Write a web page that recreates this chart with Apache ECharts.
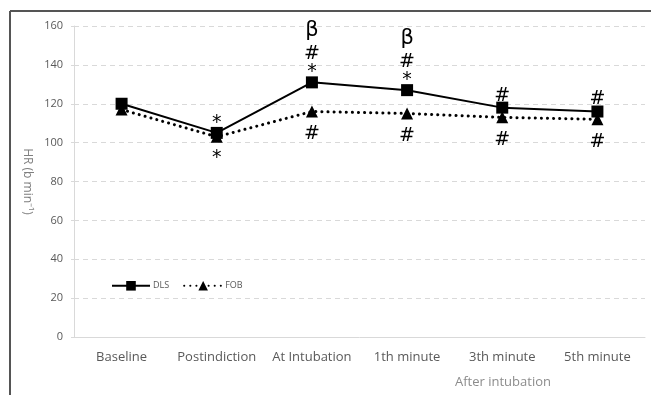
<!DOCTYPE html>
<html>
<head>
<meta charset="utf-8">
<script src="https://cdn.jsdelivr.net/npm/echarts@6/dist/echarts.min.js"></script>
<style>html,body{margin:0;padding:0;background:#fff}#c{width:651px;height:395px}</style>
</head>
<body>
<div id="c"></div>
<script>
var categories = ['Baseline', 'Postindiction', 'At Intubation', '1th minute', '3th minute', '5th minute'];
var dlsValues = [120, 105, 131, 127, 118, 116];
var fobValues = [117, 103, 116, 115, 113, 112];
var dlsMarks = ['', '*', 'β\n#\n*', 'β\n#\n*', '#', '#'];
var fobMarks = ['', '*', '#', '#', '#', '#'];
var yTicks = [0, 20, 40, 60, 80, 100, 120, 140, 160];

var font = 'Open Sans';
function richFor(txt) {
  return txt.split('\n').map(function (l) {
    if (l === 'β') return '{b|β}';
    if (l === '#') return '{h|#}';
    if (l === '*') return '{s|*}';
    return l;
  }).join('\n');
}
var rich = {
  b: {fontSize: 21, lineHeight: 28, fontFamily: 'DejaVu Sans', color: '#000'},
  h: {fontSize: 19, lineHeight: 20, fontFamily: 'DejaVu Sans', color: '#000'},
  s: {fontSize: 19, lineHeight: 16, fontFamily: 'DejaVu Sans', color: '#000'}
};

var chart = echarts.init(document.getElementById('c'));
chart.setOption({
  animation: false,
  backgroundColor: '#fff',
  grid: {left: 74, right: 6, top: 26, bottom: 58},
  legend: {
    left: 106, top: 276, itemWidth: 38, itemHeight: 12, itemGap: 14,
    textStyle: {fontSize: 9, color: '#595959', fontFamily: font, padding: [0, 0, 0, -2]},
    data: ['DLS', 'FOB']
  },
  xAxis: {
    type: 'category',
    data: categories,
    boundaryGap: true,
    axisLine: {lineStyle: {color: '#d9d9d9', width: 1}},
    axisTick: {show: false},
    axisLabel: {color: '#595959', fontSize: 13, fontFamily: font, margin: 14, interval: 0}
  },
  yAxis: {
    type: 'value',
    min: 0, max: 160, interval: 20,
    axisLine: {show: true, lineStyle: {color: '#d9d9d9'}},
    axisTick: {show: true, length: 3, lineStyle: {color: '#d9d9d9'}},
    axisLabel: {color: '#595959', fontSize: 11, fontFamily: font, margin: 11,
      formatter: function (v) { return yTicks.indexOf(v) >= 0 ? String(v) : ''; }},
    splitLine: {lineStyle: {color: '#d9d9d9', type: [5, 4], width: 1}},
    name: 'HR (b min\u207B\u00B9)',
    nameLocation: 'middle',
    nameGap: 34,
    nameRotate: -90,
    nameTextStyle: {color: '#7f7f7f', fontSize: 12, fontFamily: font}
  },
  series: [
    {
      name: 'DLS', type: 'line', z: 3,
      data: dlsValues.map(function (v, i) {
        return {value: v, label: {show: !!dlsMarks[i], formatter: richFor(dlsMarks[i] || ' ')}};
      }),
      symbol: 'rect', symbolSize: 12,
      itemStyle: {color: '#000'},
      lineStyle: {color: '#000', width: 2},
      label: {position: 'top', distance: 2, offset: [0, 6], rich: rich}
    },
    {
      name: 'FOB', type: 'line', z: 2,
      data: fobValues.map(function (v, i) {
        return {value: v, label: {show: !!fobMarks[i], formatter: richFor(fobMarks[i] || ' ')}};
      }),
      symbol: 'triangle', symbolSize: 12,
      itemStyle: {color: '#000'},
      lineStyle: {color: '#000', width: 3, type: [0.1, 6], cap: 'round'},
      label: {position: 'bottom', distance: 4, offset: [0, 3], rich: rich}
    }
  ],
  graphic: [
    {type: 'line', shape: {x1: 10, y1: 11, x2: 651, y2: 11}, style: {stroke: '#555', lineWidth: 2}, silent: true},
    {type: 'line', shape: {x1: 10, y1: 11, x2: 10, y2: 395}, style: {stroke: '#555', lineWidth: 2}, silent: true},
    {type: 'text', x: 503, y: 382, silent: true,
      style: {text: 'After intubation', fill: '#8c8c8c', font: '13px "Open Sans"', textAlign: 'center', textVerticalAlign: 'middle'}}
  ]
});
</script>
</body>
</html>
